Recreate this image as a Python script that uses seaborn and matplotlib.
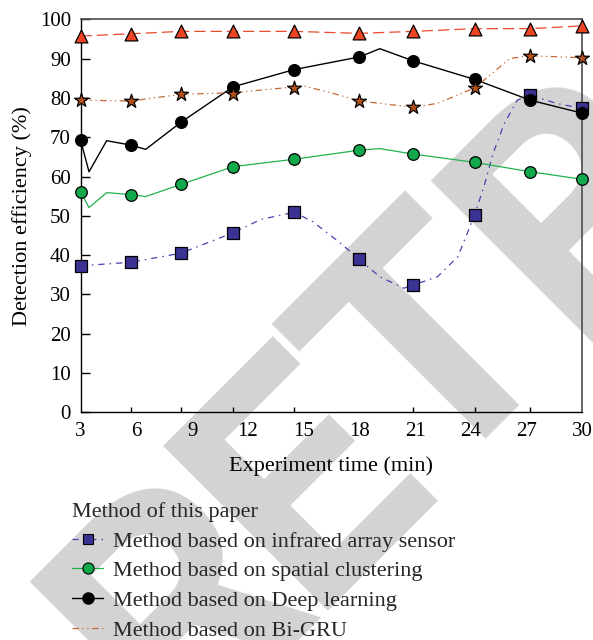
import matplotlib

matplotlib.use("Agg")
import matplotlib.pyplot as plt
import numpy as np
import seaborn as sns
from matplotlib.lines import Line2D

OUT_PATH = "out.png"

# experiment time of each marker (min)
MARK_TIME = [3.0, 5.7, 8.4, 11.2, 14.5, 18.0, 20.9, 24.2, 27.2, 30.0]

PAPER = [95.7, 96.3, 96.9, 96.9, 96.9, 96.4, 96.9, 97.6, 97.6, 98.3]
BIGRU = [79.4, 79.2, 80.9, 80.9, 82.5, 79.2, 77.6, 82.5, 90.7, 90.2]
DEEP = [69.2, 68.0, 73.8, 82.8, 87.2, 90.4, 89.4, 84.7, 79.4, 76.1]
SPATIAL = [56.1, 55.4, 58.0, 62.5, 64.4, 66.7, 65.7, 63.6, 61.2, 59.3]
INFRARED = [37.3, 38.2, 40.5, 45.7, 50.9, 38.9, 32.4, 50.2, 80.7, 77.3]

# the drawn lines have more vertices than there are markers
DL_TIME = [3.0, 3.45, 4.4, 5.7, 6.5, 8.4, 11.2, 14.5, 18.0, 19.1, 20.9, 24.2, 27.2, 30.0]
DEEP_LINE = [69.2, 61.2, 69.1, 68.0, 66.9, 73.8, 82.8, 87.2, 90.4, 92.5, 89.4, 84.7, 79.4, 76.1]
SPATIAL_LINE = [56.1, 52.1, 55.9, 55.4, 54.9, 58.0, 62.5, 64.4, 66.7, 67.1, 65.7, 63.6, 61.2, 59.3]

BG_TIME = [3.0, 5.7, 8.4, 11.2, 15.0, 16.4, 18.0, 20.9, 22.2, 24.2, 26.1, 27.2, 30.0]
BIGRU_LINE = [79.4, 79.2, 80.9, 81.3, 83.0, 81.4, 79.2, 77.6, 78.6, 82.5, 90.0, 90.7, 90.2]

IR_TIME = [3.0, 5.7, 8.4, 11.2, 12.7, 14.5, 15.5, 17.0, 18.0, 19.1, 20.4, 20.9,
           22.2, 23.3, 24.2, 24.7, 25.2, 25.8, 26.5, 27.2, 28.6, 30.0]
IR_LINE = [37.3, 38.2, 40.5, 45.7, 49.1, 50.9, 48.5, 43.0, 38.9, 34.5, 31.6, 32.4,
           34.5, 39.6, 50.2, 57.4, 65.9, 73.5, 79.4, 80.7, 78.6, 77.3]

LABELS = [
    "Method based on infrared array sensor",
    "Method based on spatial clustering",
    "Method based on Deep learning",
    "Method based on Bi-GRU",
]
LEGEND_TITLE = "Method of this paper"

# visible letters of the grey retraction stamp, centres along its 45 deg baseline (px)
STAMP = ["R", "E", "T", "R"]
STAMP_U = [-301, -123, 60, 266]

# colours / line styles
RED_LINE, RED_FACE = "#ec4a2c", "#ef4423"
BG_LINE, BG_FACE = "#c46a36", "#b4521a"
GREEN_LINE, GREEN_FACE = "#22b24c", "#12a84c"
IR_LINE_C, IR_FACE = "#4343b0", "#3b3394"
RED_DASH = (0, (9, 4))
IR_DASH = (0, (5, 4, 1.2, 4))
BG_DASH = (0, (5.2, 2.8, 1, 2.8, 1, 2.8))

W, H = 593, 640


def draw_series(ax, lt, lv, mv, color, dash, marker, face, size, lw=0.9):
    sns.lineplot(x=lt, y=lv, ax=ax, color=color, linewidth=lw, linestyle=dash,
                 errorbar=None, sort=False)
    sns.scatterplot(x=MARK_TIME, y=mv, ax=ax, marker=marker, s=size, color=face,
                    edgecolor="black", linewidth=0.9, zorder=3, clip_on=False)


sns.set_theme(style="white")
plt.rcParams["font.family"] = ["Liberation Serif", "DejaVu Serif"]

fig, ax = plt.subplots(figsize=(W / 100, H / 100), dpi=100)
fig.subplots_adjust(left=0.136, right=0.982, top=0.970, bottom=0.3555)
ax.set_facecolor("none")

# stamp sits behind everything; baseline runs along x + y = 918 px
for ch, u in zip(STAMP, STAMP_U):
    px = (918 + u * np.sqrt(2)) / 2
    py = (918 - u * np.sqrt(2)) / 2
    fig.text(px / W, 1 - py / H, ch, rotation=45, rotation_mode="anchor",
             ha="center", va="baseline", fontsize=235, fontweight="bold",
             family="Roboto", color="#d3d3d3", zorder=-5)

draw_series(ax, IR_TIME, IR_LINE, INFRARED, IR_LINE_C, IR_DASH, "s", IR_FACE, 67)
draw_series(ax, DL_TIME, SPATIAL_LINE, SPATIAL, GREEN_LINE, "-", "o", GREEN_FACE, 70)
draw_series(ax, DL_TIME, DEEP_LINE, DEEP, "black", "-", "o", "black", 72, lw=1.0)
draw_series(ax, BG_TIME, BIGRU_LINE, BIGRU, BG_LINE, BG_DASH, "*", BG_FACE, 110)
draw_series(ax, MARK_TIME, PAPER, PAPER, RED_LINE, RED_DASH, "^", RED_FACE, 85)

ax.set_xlim(3, 30)
ax.set_ylim(0, 100)
ax.set_xticks(range(3, 31, 3))
ax.set_xticks(MARK_TIME, minor=True)
ax.set_yticks(range(0, 101, 10))
ax.tick_params(axis="x", which="major", length=0, pad=7, labelsize=15, colors="black")
ax.tick_params(axis="x", which="minor", direction="in", length=3.5, width=1.0,
               bottom=True, top=False, color="black")
ax.tick_params(axis="y", direction="in", length=6.5, width=1.0, pad=7, labelsize=15,
               left=True, right=False, color="black", labelcolor="black")

for side in ["left", "bottom"]:
    ax.spines[side].set_color("black")
    ax.spines[side].set_linewidth(1.0)
for side in ["top", "right"]:
    ax.spines[side].set_color("#4d4d4d")
    ax.spines[side].set_linewidth(1.2)

ax.set_xlabel("Experiment time (min)", fontsize=16, labelpad=10.5, color="black")
ax.set_ylabel("Detection efficiency (%)", fontsize=16, color="black")
ax.yaxis.set_label_coords(-0.097, 0.5)

handles = [
    Line2D([], [], color=IR_LINE_C, lw=0.9, linestyle=IR_DASH, marker="s", markersize=7,
           markerfacecolor=IR_FACE, markeredgecolor="black", markeredgewidth=0.8),
    Line2D([], [], color=GREEN_LINE, lw=0.9, marker="o", markersize=8,
           markerfacecolor=GREEN_FACE, markeredgecolor="black", markeredgewidth=0.8),
    Line2D([], [], color="black", lw=1.0, marker="o", markersize=8,
           markerfacecolor="black", markeredgecolor="black"),
    Line2D([], [], color=BG_LINE, lw=0.9, linestyle=BG_DASH),
]
fig.legend(handles, LABELS, title=LEGEND_TITLE, loc="upper left",
           bbox_to_anchor=(72 / W, 1 - 502 / H), frameon=False, fontsize=16,
           title_fontsize=16, alignment="left", handlelength=1.4, handletextpad=0.45,
           labelspacing=0.41, borderpad=0, borderaxespad=0)

fig.savefig(OUT_PATH, dpi=100, facecolor="white")
plt.close(fig)
